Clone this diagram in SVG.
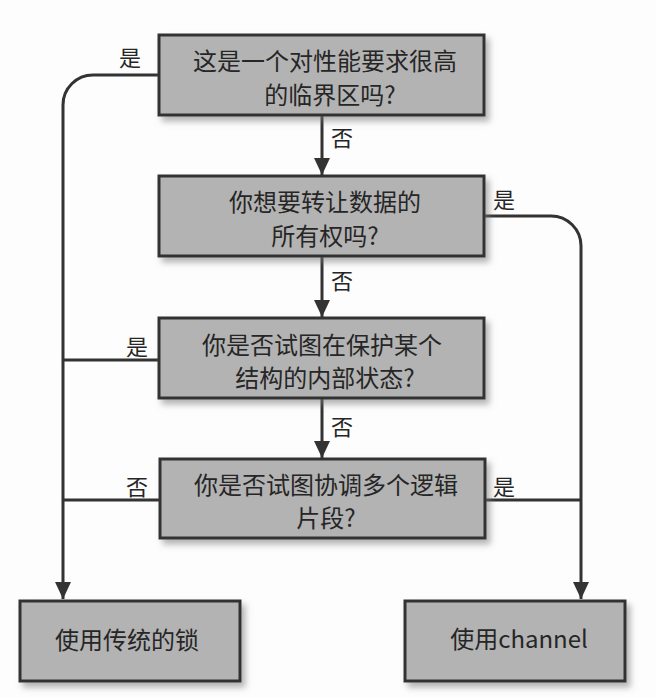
<svg xmlns="http://www.w3.org/2000/svg" width="656" height="697" viewBox="0 0 656 697">
<defs>
<filter id="sh" x="-10%" y="-10%" width="130%" height="140%">
<feDropShadow dx="4" dy="5" stdDeviation="3" flood-color="#777" flood-opacity="0.55"/>
</filter>
<marker id="arr" markerUnits="userSpaceOnUse" markerWidth="18" markerHeight="18" viewBox="0 0 18 18" refX="17" refY="9" orient="auto">
<path d="M0,1 L17,9 L0,17 Z" fill="#333"/>
</marker>
<style>
.box{fill:#b3b3b3;stroke:#333;stroke-width:3;filter:url(#sh)}
.t{font-family:"Noto Sans CJK SC","Noto Sans",sans-serif;font-size:24px;fill:#262626;text-anchor:middle}
.lbl{font-family:"Noto Sans CJK SC","Noto Sans",sans-serif;font-size:22px;fill:#262626;text-anchor:middle}
.c{fill:none;stroke:#333;stroke-width:3}
</style>
</defs>
<rect width="656" height="697" fill="#fdfdfd"/>
<g id="connectors">
<path class="c" d="M159,75 H93 A30,30 0 0 0 63,105 V599" marker-end="url(#arr)"/>
<path class="c" d="M322,114 V175" marker-end="url(#arr)"/>
<path class="c" d="M484,216 H551 A30,30 0 0 1 581,246 V599" marker-end="url(#arr)"/>
<path class="c" d="M322,256 V317" marker-end="url(#arr)"/>
<path class="c" d="M159,360 H63"/>
<path class="c" d="M322,398 V458" marker-end="url(#arr)"/>
<path class="c" d="M160,500 H63"/>
<path class="c" d="M485,500 H581"/>
<text class="lbl" x="130" y="66">是</text>
<text class="lbl" x="342" y="146">否</text>
<text class="lbl" x="504" y="208">是</text>
<text class="lbl" x="342" y="289">否</text>
<text class="lbl" x="137" y="355">是</text>
<text class="lbl" x="342" y="435">否</text>
<text class="lbl" x="137" y="495">否</text>
<text class="lbl" x="504" y="495">是</text>
</g>
<g id="n1">
<rect class="box" x="159" y="35" width="325" height="80"/>
<text class="t" x="325" y="70">这是一个对性能要求很高</text>
<text class="t" x="330" y="104">的临界区吗?</text>
</g>
<g id="n2">
<rect class="box" x="159" y="176" width="325" height="80"/>
<text class="t" x="325" y="211">你想要转让数据的</text>
<text class="t" x="325" y="245">所有权吗?</text>
</g>
<g id="n3">
<rect class="box" x="159" y="318" width="325" height="80"/>
<text class="t" x="322" y="354">你是否试图在保护某个</text>
<text class="t" x="325" y="387">结构的内部状态?</text>
</g>
<g id="n4">
<rect class="box" x="160" y="459" width="325" height="79"/>
<text class="t" x="326" y="494">你是否试图协调多个逻辑</text>
<text class="t" x="326" y="527">片段?</text>
</g>
<g id="n5">
<rect class="box" x="20" y="601" width="220" height="80"/>
<text class="t" x="127" y="649">使用传统的锁</text>
</g>
<g id="n6">
<rect class="box" x="405" y="601" width="220" height="80"/>
<text class="t" x="519" y="648">使用channel</text>
</g>
</svg>
